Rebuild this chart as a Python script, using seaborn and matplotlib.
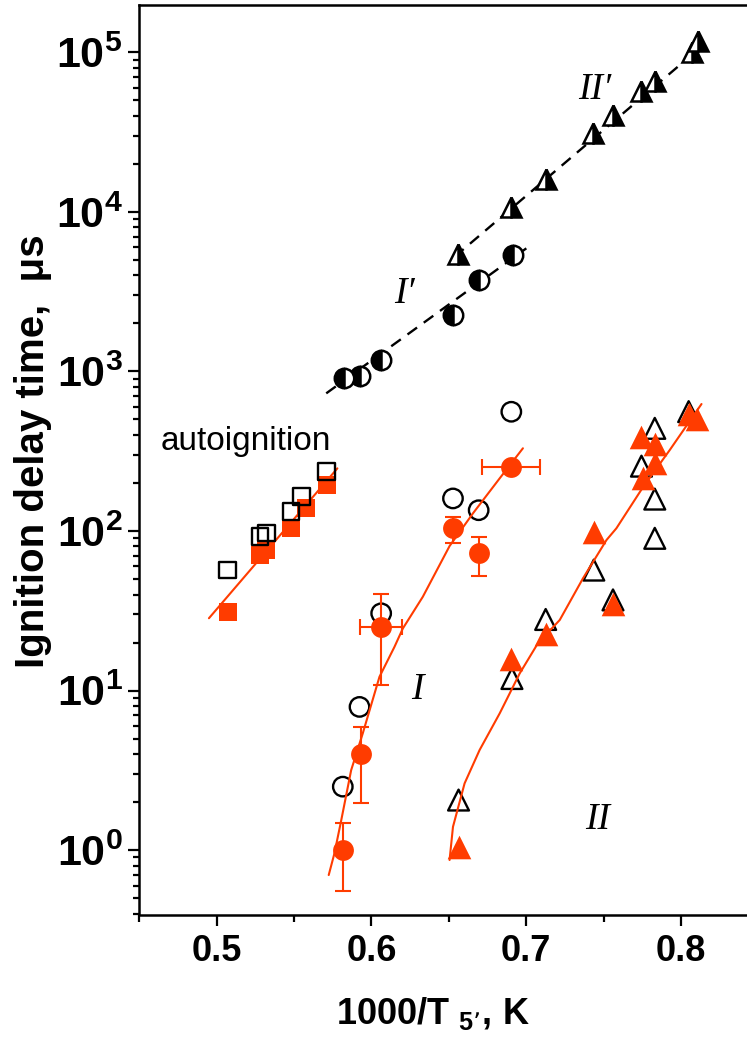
import numpy as np
import matplotlib
matplotlib.use('Agg')
import matplotlib.pyplot as plt
from matplotlib.ticker import FixedLocator, MultipleLocator, LogLocator, NullFormatter
import seaborn as sns

# ---- autoignition (squares) ----
auto_open_x = [0.507, 0.528, 0.532, 0.548, 0.555, 0.571]
auto_open_y = [57, 92, 97, 132, 164, 235]
auto_fill_x = [0.507, 0.528, 0.532, 0.548, 0.558, 0.571]
auto_fill_y = [31, 71, 76, 104, 139, 194]
auto_fit_x = [0.495, 0.578]
auto_fit_y = [28.4, 247]

# ---- series I (circles) ----
i_open_x = [0.5815, 0.5923, 0.6063, 0.6527, 0.6693, 0.6904]
i_open_y = [2.5, 7.9, 30.5, 160, 135, 559]
i_fill_x = [0.5815, 0.5934, 0.6063, 0.6527, 0.6693, 0.6904]
i_fill_y = [1.0, 4.0, 25.1, 104, 73, 251]
i_fill_ylo = [0.556, 1.98, 10.8, 84.6, 52.2, 251]
i_fill_yhi = [1.47, 5.88, 40.1, 122.5, 92.1, 251]
i_fill_xerr = [0, 0, 0.0135, 0, 0, 0.0187]
i_fit_x = [0.5724, 0.5761, 0.5805, 0.5869, 0.5944, 0.6052, 0.6149, 0.6203,
           0.6332, 0.6505, 0.6656, 0.6829, 0.6979]
i_fit_y = [0.698, 0.955, 1.54, 3.17, 5.39, 12.2, 18.8, 24.5, 38.7, 80.5,
           129, 214, 330]

# ---- series II (triangles) ----
ii_open_x = [0.6563, 0.6908, 0.7126, 0.7437, 0.7561, 0.7745, 0.7831,
             0.7831, 0.7831, 0.8050]
ii_open_y = [2.06, 11.9, 27.9, 56.9, 37, 255, 440, 158.5, 90, 560]
ii_fill_x = [0.6563, 0.6904, 0.7126, 0.7437, 0.7561, 0.7745, 0.7752,
             0.7831, 0.7831, 0.8050, 0.8105]
ii_fill_y = [1.04, 15.8, 22.6, 99, 34.8, 390, 214, 349, 265, 540, 500]
ii_fit_x = [0.6505, 0.6527, 0.6602, 0.6699, 0.6829, 0.6958, 0.7076, 0.7217,
            0.7367, 0.7519, 0.7583, 0.7756, 0.7928, 0.8133]
ii_fit_y = [0.867, 1.40, 2.62, 4.24, 7.2, 12.8, 19.8, 27.7, 50.5, 87.8,
            104, 189, 322, 625]

# ---- series I' (half-filled circles) and II' (half-filled triangles) ----
ip_x = [0.5826, 0.5923, 0.6063, 0.6527, 0.6693, 0.6915]
ip_y = [906, 930, 1179, 2257, 3741, 5365]
ip_fit_x = [0.5708, 0.7001]
ip_fit_y = [729, 5910]
iip_x = [0.6559, 0.6904, 0.7131, 0.7432, 0.7561, 0.7745, 0.7831, 0.8069, 0.8111]
iip_y = [5445, 10680, 16070, 31060, 40460, 57450, 66070, 100900, 118200]
iip_fit_x = [0.6538, 0.8144]
iip_fit_y = [5236, 111000]

x_ticks = [0.5, 0.6, 0.7, 0.8]
y_ticks = [1e0, 1e1, 1e2, 1e3, 1e4, 1e5]

red = '#ff3c00'

sns.set_theme(style='ticks')
plt.rcParams['font.family'] = ['Liberation Sans', 'DejaVu Sans']
plt.rcParams['font.weight'] = 'bold'
plt.rcParams['text.color'] = 'black'
plt.rcParams['axes.labelcolor'] = 'black'
plt.rcParams['axes.edgecolor'] = 'black'
plt.rcParams['xtick.color'] = 'black'
plt.rcParams['ytick.color'] = 'black'
plt.rcParams['axes.linewidth'] = 1.8
plt.rcParams['xtick.major.width'] = 1.6
plt.rcParams['ytick.major.width'] = 1.6
plt.rcParams['xtick.minor.width'] = 1.6
plt.rcParams['ytick.minor.width'] = 1.6

fig = plt.figure(figsize=(7.47, 10.37), dpi=100)
ax = fig.add_axes([139.3 / 747, 1 - 914.5 / 1037, 1 - 139.3 / 747, 909.5 / 1037])
ax.set_yscale('log')

# autoignition
sns.lineplot(x=auto_fit_x, y=auto_fit_y, color=red, lw=1.5, sort=False,
             estimator=None, ax=ax, zorder=2)
sns.scatterplot(x=auto_fill_x, y=auto_fill_y, marker='s', s=13 ** 2,
                color=red, edgecolor=red, linewidth=0, ax=ax, zorder=3)
sns.scatterplot(x=auto_open_x, y=auto_open_y, marker='s', s=12 ** 2,
                facecolor='none', edgecolor='black', linewidth=1.7, ax=ax, zorder=4)

# series I
sns.scatterplot(x=i_open_x, y=i_open_y, marker='o', s=14 ** 2,
                facecolor='none', edgecolor='black', linewidth=1.7, ax=ax, zorder=2)
sns.lineplot(x=i_fit_x, y=i_fit_y, color=red, lw=1.5, sort=False,
             estimator=None, ax=ax, zorder=3)
iy = np.array(i_fill_y)
yerr = [iy - np.array(i_fill_ylo), np.array(i_fill_yhi) - iy]
ax.errorbar(i_fill_x, i_fill_y, yerr=yerr, fmt='none', ecolor=red,
            elinewidth=1.5, capsize=6, capthick=1.5, zorder=3)
has_x = np.array(i_fill_xerr) > 0
ax.errorbar(np.array(i_fill_x)[has_x], iy[has_x], xerr=np.array(i_fill_xerr)[has_x],
            fmt='none', ecolor=red, elinewidth=1.5, capsize=6, capthick=1.5, zorder=3)
sns.scatterplot(x=i_fill_x, y=i_fill_y, marker='o', s=15 ** 2,
                color=red, edgecolor=red, linewidth=0, ax=ax, zorder=4)

# series II
sns.scatterplot(x=ii_open_x, y=ii_open_y, marker='^', s=15 ** 2,
                facecolor='none', edgecolor='black', linewidth=1.7, ax=ax, zorder=2)
sns.lineplot(x=ii_fit_x, y=ii_fit_y, color=red, lw=1.5, sort=False,
             estimator=None, ax=ax, zorder=3)
sns.scatterplot(x=ii_fill_x, y=ii_fill_y, marker='^', s=17 ** 2,
                color=red, edgecolor=red, linewidth=0, ax=ax, zorder=4)

# series I' and II'
sns.lineplot(x=ip_fit_x, y=ip_fit_y, color='black', lw=1.7, sort=False,
             estimator=None, linestyle=(0, (5, 3.5)), ax=ax, zorder=2)
sns.lineplot(x=iip_fit_x, y=iip_fit_y, color='black', lw=1.7, sort=False,
             estimator=None, linestyle=(0, (5, 3.5)), ax=ax, zorder=2)
ax.plot(ip_x, ip_y, 'o', ls='none', ms=14, fillstyle='left', mfc='black',
        markerfacecoloralt='white', mec='black', mew=1.8, zorder=3)
ax.plot(iip_x, iip_y, '^', ls='none', ms=15, fillstyle='right', mfc='black',
        markerfacecoloralt='white', mec='black', mew=1.8, zorder=3)

# annotations
ax.text(0.519, 366, 'autoignition', fontsize=24, fontweight='normal',
        ha='center', va='center')
serif = dict(family='Liberation Serif', style='italic', fontweight='normal',
             fontsize=27, ha='center', va='center')
ax.text(0.630, 10.07, 'I', **serif)
ax.text(0.7462, 1.54, 'II', **serif)
ax.text(0.6214, 3083, 'I\u2032', **serif)
ax.text(0.7443, 58100, 'II\u2032', **serif)

# axes
ax.set_xlim(0.45, 0.8427)
ax.set_ylim(0.395, 1.98e5)
ax.xaxis.set_major_locator(FixedLocator(x_ticks))
ax.xaxis.set_minor_locator(MultipleLocator(0.05))
ax.yaxis.set_major_locator(FixedLocator(y_ticks))
ax.yaxis.set_minor_locator(LogLocator(base=10, subs=np.arange(2, 10)))
ax.yaxis.set_minor_formatter(NullFormatter())
ax.tick_params(axis='x', which='major', length=8, pad=6, labelsize=26)
ax.tick_params(axis='x', which='minor', length=5)
ax.tick_params(axis='y', which='major', length=8, pad=4, labelsize=31)
ax.tick_params(axis='y', which='minor', length=4.5)
sns.despine(ax=ax, top=False, right=True)

ax.set_xlabel('1000/T $_{\\mathdefault{5\u2019}}$, K', fontsize=26, fontweight='bold')
ax.xaxis.set_label_coords((433 - 139.3) / 607.7, -(995 - 914.5) / 909.5)
ax.set_ylabel('Ignition delay time,  \u03bcs', fontsize=29, fontweight='bold')
ax.yaxis.set_label_coords((52 - 139.3) / 607.7, (914.5 - 451) / 909.5)

fig.savefig('out.png', dpi=100)
